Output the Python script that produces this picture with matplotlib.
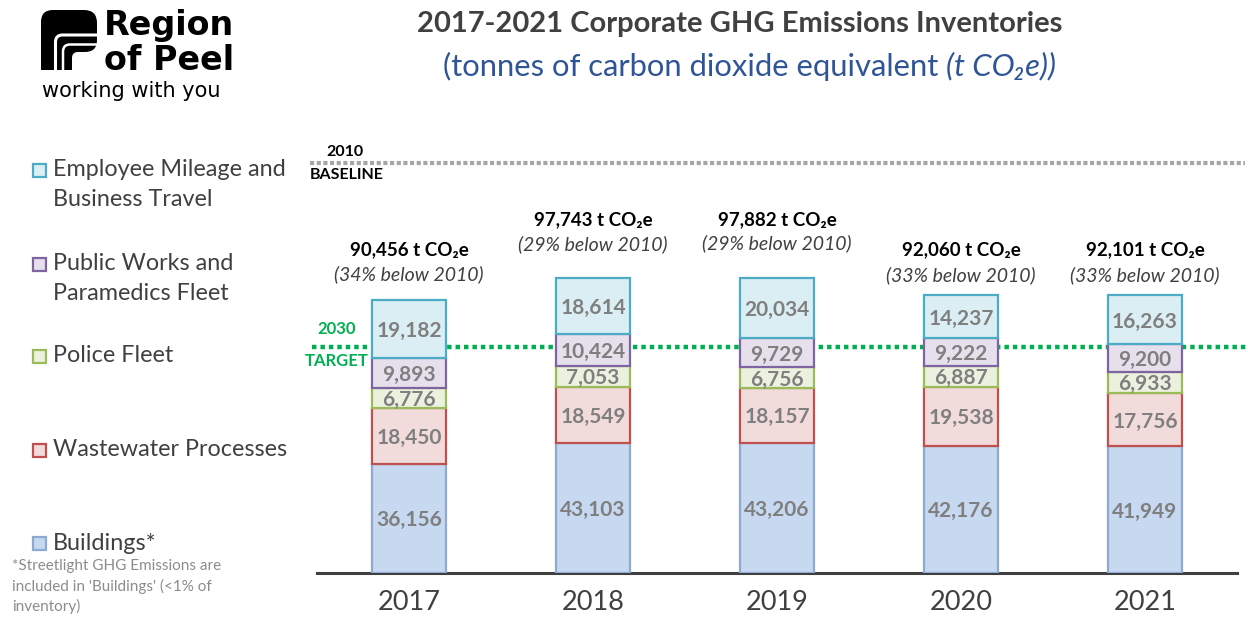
import numpy as np
import matplotlib
matplotlib.use('Agg')
import matplotlib.pyplot as plt
from matplotlib.path import Path
from matplotlib.patches import PathPatch

plt.rcParams['font.family'] = ['Lato', 'DejaVu Sans']

# data
years = ['2017', '2018', '2019', '2020', '2021']
buildings = [36156, 43103, 43206, 42176, 41949]
wastewater = [18450, 18549, 18157, 19538, 17756]
police = [6776, 7053, 6756, 6887, 6933]
public_works = [9893, 10424, 9729, 9222, 9200]
employee = [19182, 18614, 20034, 14237, 16263]
totals = [90456, 97743, 97882, 92060, 92101]
below_2010 = [34, 29, 29, 33, 33]
baseline_2010 = 136000
target_2030 = 75000

legend_names = [['Employee Mileage and', 'Business Travel'],
                ['Public Works and', 'Paramedics Fleet'],
                ['Police Fleet'],
                ['Wastewater Processes'],
                ['Buildings*']]

W, H = 1248, 620
fig = plt.figure(figsize=(W / 100, H / 100), dpi=100)
ax = fig.add_axes([317 / W, 47 / H, 920 / W, 433 / H])

# stacked bars, bottom to top
series = [buildings, wastewater, police, public_works, employee]
faces = ['#c6d9f1', '#f2dcdb', '#ebf1de', '#e5e0ec', '#daeef3']
edges = ['#8eaad3', '#c0504d', '#9bbb59', '#8064a2', '#4bacc6']

x = np.arange(len(years))
bottom = np.zeros(len(years))
for vals, fc, ec in zip(series, faces, edges):
    vals = np.array(vals)
    ax.bar(x, vals, 0.40, bottom=bottom, color=fc, edgecolor=ec, linewidth=1.6, zorder=3)
    for xi, b, v in zip(x, bottom, vals):
        ax.text(xi, b + v / 2, f'{v:,}', ha='center', va='center_baseline', fontsize=15,
                fontweight='bold', color='#7f7f7f', zorder=4)
    bottom = bottom + vals

# totals above bars
gap_px = [[50, 26], [58, 34], [58, 34], [45, 20], [45, 20]]
for xi, t, p, g in zip(x, totals, below_2010, gap_px):
    ax.annotate(f'{t:,} t CO\u2082e', xy=(xi, t), xytext=(0, g[0] * 0.72), textcoords='offset points',
                ha='center', va='center', fontsize=13.5, fontweight='bold', color='black')
    ax.annotate(f'({p}% below 2010)', xy=(xi, t), xytext=(0, g[1] * 0.72), textcoords='offset points',
                ha='center', va='center', fontsize=14, fontstyle='italic', color='#404040')

# baseline and target lines
ax.plot([-0.008, 1.009], [baseline_2010, baseline_2010], transform=ax.get_yaxis_transform(),
        color='#a6a6a6', lw=3, ls=(0, (1, 0.6)), clip_on=False, zorder=2)
ax.plot([-0.005, 1.02], [target_2030, target_2030], transform=ax.get_yaxis_transform(),
        color='#00b050', lw=3.2, ls=(0, (1, 0.9)), clip_on=False, zorder=2)

ax.set_xlim(-0.5, 4.5)
ax.set_ylim(0, 143500)
ax.set_xticks(x)
ax.set_xticklabels(years)
ax.set_yticks([])
ax.tick_params(axis='x', length=0, pad=12, labelsize=19.5, labelcolor='#404040')
for s in ['top', 'left', 'right']:
    ax.spines[s].set_visible(False)
ax.spines['bottom'].set_color('#404040')
ax.spines['bottom'].set_linewidth(2.2)
ax.patch.set_alpha(0)

# overlay in pixel coordinates for the titles, legend and logo
ov = fig.add_axes([0, 0, 1, 1], zorder=5)
ov.set_xlim(0, W)
ov.set_ylim(H, 0)
ov.axis('off')
ov.patch.set_alpha(0)

ov.text(740, 24, '2017-2021 Corporate GHG Emissions Inventories', ha='center', va='center',
        fontsize=21, fontweight='bold', color='#404040')
sub_color = '#2f5597'
t1 = ov.text(443, 66, '(tonnes of carbon dioxide equivalent ', ha='left', va='center',
             fontsize=22.3, color=sub_color)
ov.annotate('(t CO\u2082e))', xy=(1, 0), xycoords=t1, ha='left', va='bottom',
            fontsize=22.3, fontstyle='italic', color=sub_color)

# baseline / target captions
ov.text(345, 152, '2010', ha='center', va='center', fontsize=11.5, fontweight='bold', color='black')
ov.text(347, 175, 'BASELINE', ha='center', va='center', fontsize=11.5, fontweight='bold', color='black')
ov.text(337, 329, '2030', ha='center', va='center', fontsize=12, fontweight='bold', color='#00b050')
ov.text(337, 361, 'TARGET', ha='center', va='center', fontsize=12, fontweight='bold', color='#00b050')

# legend on the left
leg_y = [170, 264, 356, 450, 543]
for names, yy, fc, ec in zip(legend_names, leg_y, faces[::-1], edges[::-1]):
    ov.add_patch(plt.Rectangle((33, yy - 6.5), 13, 13, facecolor=fc, edgecolor=ec, lw=1.6))
    for k, line in enumerate(names):
        ov.text(53, yy + 30 * k, line, ha='left', va='center', fontsize=16.8, color='#404040')

note = ['*Streetlight GHG Emissions are', "included in 'Buildings' (<1% of", 'inventory)']
for k, line in enumerate(note):
    ov.text(12, 566 + 20 * k, line, ha='left', va='center', fontsize=11, color='#8c8c8c')

# logo
verts = [(41, 70), (41, 22), (41, 10), (53, 10), (84, 10), (97, 10), (97, 23), (97, 40),
         (97, 52), (85, 52), (78, 52), (72, 52), (72, 58), (72, 70), (41, 70)]
codes = [Path.MOVETO, Path.LINETO, Path.CURVE3, Path.CURVE3, Path.LINETO, Path.CURVE3, Path.CURVE3,
         Path.LINETO, Path.CURVE3, Path.CURVE3, Path.LINETO, Path.CURVE3, Path.CURVE3, Path.LINETO,
         Path.CLOSEPOLY]
ov.add_patch(PathPatch(Path(verts, codes), facecolor='black', edgecolor='none'))
for xs, yh, lw in [(55.5, 35, 2.2), (63, 44.5, 1.8)]:
    v = [(xs, 71), (xs, yh + 7), (xs, yh), (xs + 7, yh), (98, yh)]
    c = [Path.MOVETO, Path.LINETO, Path.CURVE3, Path.CURVE3, Path.LINETO]
    ov.add_patch(PathPatch(Path(v, c), facecolor='none', edgecolor='white', lw=lw))
ov.text(104, 35, 'Region', ha='left', va='baseline', fontsize=24, fontweight='bold',
        family='DejaVu Sans', color='black')
ov.text(104, 70, 'of Peel', ha='left', va='baseline', fontsize=24, fontweight='bold',
        family='DejaVu Sans', color='black')
ov.text(42, 97, 'working with you', ha='left', va='baseline', fontsize=15,
        family='DejaVu Sans', color='black')

fig.savefig('out.png', dpi=100)
